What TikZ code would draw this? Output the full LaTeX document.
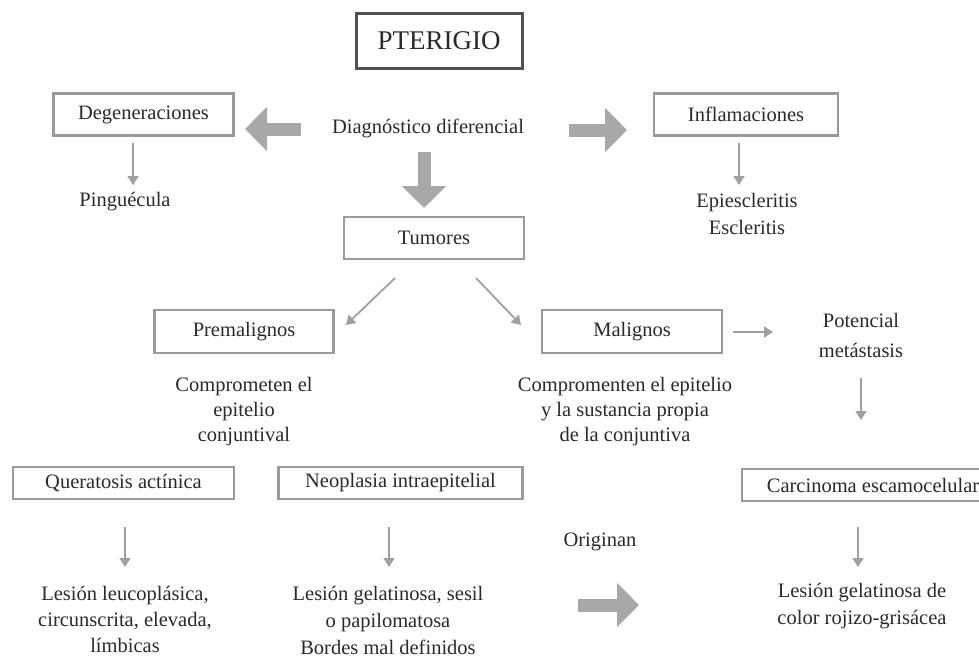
\documentclass[tikz,border=0pt]{standalone}
\usepackage{fontspec}
\setmainfont{Liberation Serif}
\usetikzlibrary{arrows.meta}
\definecolor{boxgray}{HTML}{9A9A9A}
\definecolor{darkbox}{HTML}{505050}
\definecolor{arrgray}{HTML}{A0A0A0}
\definecolor{biggray}{HTML}{A8A8A8}
\definecolor{txt}{HTML}{2A2A2A}
\newcommand{\fsz}{\fontsize{20.5}{25}\selectfont}
\tikzset{
  box/.style={draw=boxgray, line width=2.5pt, fill=white, inner sep=0pt,
    minimum height=42pt, text=txt, font=\fsz},
  lbl/.style={text=txt, align=center, inner sep=1pt, font=\fsz},
  tarr/.style={draw=arrgray, line width=1.8pt, -{Triangle[length=9pt,width=11pt]}},
  barr/.style={draw=biggray, line width=13pt, -{Triangle[length=22pt,width=43pt]}},
}
\begin{document}
\begin{tikzpicture}[x=1pt,y=-1pt]
\useasboundingbox (0,0) rectangle (979,662);
\clip (0,0) rectangle (979,662);
\fill[white] (0,0) rectangle (979,662);

% boxes
\node[box, draw=darkbox, line width=3pt, minimum width=166pt, minimum height=55pt,
  font=\fontsize{27}{30}\selectfont] (pter) at (439,40.5) {PTERIGIO};
\node[box, minimum width=180pt] (deg) at (143.5,114.5) {Degeneraciones};
\node[box, minimum width=184pt] (infl) at (746,114.5) {Inflamaciones};
\node[box, minimum width=180pt] (tum) at (434,238) {Tumores};
\node[box, minimum width=179pt, minimum height=43pt] (prem) at (244,331.5) {Premalignos};
\node[box, minimum width=180pt, minimum height=43pt] (mal) at (632,331.5) {Malignos};
\node[box, minimum width=221pt, minimum height=32pt] (quer) at (123.5,483) {Queratosis actínica};
\node[box, minimum width=244pt, minimum height=32pt] (neo) at (400.5,483) {Neoplasia intraepitelial};
\node[box, minimum width=262pt, minimum height=32pt] (carc) at (873,485) {Carcinoma escamocelular};

% labels
\node[lbl] (diag) at (428,128) {Diagnóstico diferencial};
\node[lbl] (pin) at (125,202) {Pinguécula};
\node[lbl, font=\fontsize{20.5}{27}\selectfont] (epi) at (747,213.5) {Epiescleritis\\Escleritis};
\node[lbl, font=\fontsize{20.5}{30}\selectfont] (pot) at (861,335) {Potencial\\metástasis};
\node[lbl] (comp1) at (244,412) {Comprometen el\\epitelio\\conjuntival};
\node[lbl] (comp2) at (625,412) {Compromenten el epitelio\\y la sustancia propia\\de la conjuntiva};
\node[lbl] (orig) at (600,542) {Originan};
\node[lbl, font=\fontsize{20.5}{26}\selectfont] (les1) at (125,619) {Lesión leucoplásica,\\circunscrita, elevada,\\límbicas};
\node[lbl, font=\fontsize{20.5}{27}\selectfont] (les2) at (388,620) {Lesión gelatinosa, sesil\\o papilomatosa\\Bordes mal definidos};
\node[lbl, font=\fontsize{20.5}{27}\selectfont] (les3) at (862,606.5) {Lesión gelatinosa de\\color rojizo-grisácea};

% big arrows
\coordinate (bl1) at (301,129); \coordinate (bl2) at (245,129);
\coordinate (br1) at (569,130); \coordinate (br2) at (627,130);
\coordinate (bd1) at (424,152); \coordinate (bd2) at (424,208);
\coordinate (bo1) at (578,605); \coordinate (bo2) at (639,605);
\draw[barr] (bl1) -- (bl2);
\draw[barr] (br1) -- (br2);
\draw[barr] (bd1) -- (bd2);
\draw[barr] (bo1) -- (bo2);

% thin arrows
\draw[tarr] (133,143) -- (133,185);
\draw[tarr] (739,143) -- (739,185);
\draw[tarr] (395,278) -- (346,325);
\draw[tarr] (476,278) -- (521,325);
\draw[tarr] (733,332) -- (773,332);
\draw[tarr] (861,378) -- (861,420);
\draw[tarr] (125,527) -- (125,567);
\draw[tarr] (389,527) -- (389,567);
\draw[tarr] (858,527) -- (858,567);
\end{tikzpicture}
\end{document}
